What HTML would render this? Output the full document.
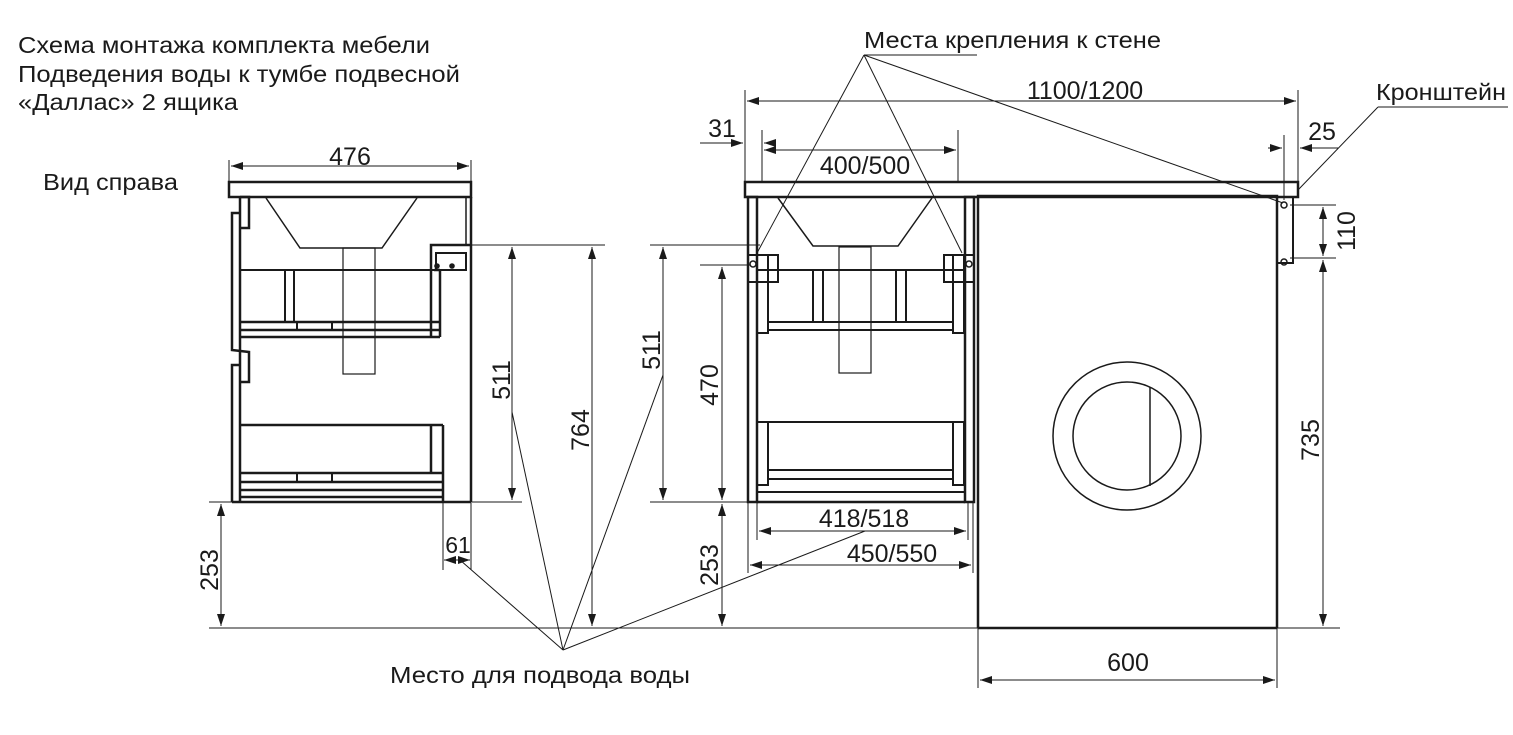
<!DOCTYPE html>
<html><head><meta charset="utf-8"><style>
html,body{margin:0;padding:0;background:#fff}
svg{display:block}
text{font-family:"Liberation Sans",sans-serif;fill:#1a1a1a}
</style></head><body>
<svg width="1513" height="735" viewBox="0 0 1513 735" xmlns="http://www.w3.org/2000/svg">
<defs>
<marker id="a" viewBox="0 0 12 8" refX="12" refY="4" markerWidth="12" markerHeight="8" orient="auto-start-reverse" markerUnits="userSpaceOnUse"><path d="M0,0 L12,4 L0,8 z" fill="#1a1a1a"/></marker>
</defs>
<g font-size="23">
<text x="18" y="53" textLength="412" lengthAdjust="spacingAndGlyphs">Схема монтажа комплекта мебели</text>
<text x="18" y="82" textLength="442" lengthAdjust="spacingAndGlyphs">Подведения воды к тумбе подвесной</text>
<text x="18" y="110" textLength="220" lengthAdjust="spacingAndGlyphs">«Даллас» 2 ящика</text>
<text x="43" y="190" textLength="135" lengthAdjust="spacingAndGlyphs">Вид справа</text>
<text x="864" y="48" textLength="297" lengthAdjust="spacingAndGlyphs">Места крепления к стене</text>
<text x="1376" y="100" textLength="130" lengthAdjust="spacingAndGlyphs">Кронштейн</text>
<text x="390" y="683" textLength="300" lengthAdjust="spacingAndGlyphs">Место для подвода воды</text>
</g>
<g stroke="#1a1a1a" stroke-width="1" fill="none">
<line x1="864" y1="55" x2="977" y2="55"/>
<line x1="864" y1="55" x2="757" y2="253"/>
<line x1="864" y1="55" x2="962" y2="253"/>
<line x1="864" y1="55" x2="1283" y2="203"/>
<line x1="1378" y1="107" x2="1508" y2="107"/>
<line x1="1378" y1="107" x2="1298" y2="190"/>
<line x1="563" y1="650" x2="460" y2="560"/>
<line x1="563" y1="650" x2="512" y2="412"/>
<line x1="563" y1="650" x2="663" y2="375"/>
<line x1="563" y1="650" x2="865" y2="531"/>
<line x1="209" y1="628" x2="1340" y2="628"/>
</g>
<g stroke="#1a1a1a" stroke-width="2.5" fill="none">
<rect x="229" y="182" width="242" height="15"/>
<line x1="471" y1="197" x2="471" y2="502"/>
<line x1="240" y1="197" x2="240" y2="502"/>
<line x1="232" y1="502" x2="471" y2="502"/>
<path d="M240,197 L249,197 L249,228 L240,228"/>
<path d="M240,213 L232,213 L232,350 L249,352 L249,382 L240,382 M240,365 L232,365 L232,502"/>
<line x1="466" y1="197" x2="466" y2="245" stroke-width="1.5"/>
<path d="M431,337 L431,245 L471,245 M434,270 L440,270 M440,270 L440,337"/>
<rect x="436" y="253" width="30" height="17" stroke-width="2"/>
<line x1="240" y1="270" x2="434" y2="270" stroke-width="2"/>
<rect x="285" y="270" width="9" height="52" stroke-width="2"/>
<line x1="240" y1="322" x2="440" y2="322"/>
<line x1="240" y1="330" x2="440" y2="330"/>
<line x1="240" y1="337" x2="440" y2="337"/>
<rect x="297" y="322" width="35" height="8" stroke-width="2"/>
<line x1="240" y1="425" x2="443" y2="425"/>
<path d="M431,425 L431,473 M443,425 L443,502"/>
<line x1="240" y1="473" x2="443" y2="473"/>
<line x1="240" y1="482" x2="443" y2="482"/>
<line x1="240" y1="490" x2="443" y2="490"/>
<line x1="240" y1="497" x2="443" y2="497"/>
<rect x="297" y="473" width="35" height="9" stroke-width="2"/>
</g>
<g stroke="#1a1a1a" stroke-width="1.5" fill="none">
<path d="M266,198 L300,248 L382,248 L417,198"/>
<rect x="343" y="248" width="32" height="126" stroke-width="1.2"/>
</g>
<circle cx="437" cy="266" r="2.8" fill="#1a1a1a"/><circle cx="452" cy="266" r="2.8" fill="#1a1a1a"/>
<g stroke="#1a1a1a" stroke-width="1" fill="none">
<line x1="229" y1="160" x2="229" y2="182"/><line x1="471" y1="160" x2="471" y2="182"/>
<line x1="231" y1="166" x2="469" y2="166" marker-start="url(#a)" marker-end="url(#a)"/>
<line x1="471" y1="245" x2="605" y2="245"/>
<line x1="472" y1="502" x2="522" y2="502"/>
<line x1="512" y1="247" x2="512" y2="500" marker-start="url(#a)" marker-end="url(#a)"/>
<line x1="592" y1="247" x2="592" y2="626" marker-start="url(#a)" marker-end="url(#a)"/>
<line x1="209" y1="502" x2="232" y2="502"/>
<line x1="221" y1="504" x2="221" y2="626" marker-start="url(#a)" marker-end="url(#a)"/>
<line x1="443" y1="502" x2="443" y2="570"/><line x1="471" y1="502" x2="471" y2="570"/>
<line x1="444" y1="560" x2="457" y2="560" marker-start="url(#a)"/>
<line x1="457" y1="560" x2="470" y2="560" marker-end="url(#a)"/>
</g>
<g font-size="25">
<text x="350" y="165" text-anchor="middle">476</text>
<text x="458" y="553" text-anchor="middle" font-size="23">61</text>
<text transform="translate(510,380) rotate(-90)" text-anchor="middle">511</text>
<text transform="translate(589,430) rotate(-90)" text-anchor="middle">764</text>
<text transform="translate(218,570) rotate(-90)" text-anchor="middle">253</text>
</g>
<g stroke="#1a1a1a" stroke-width="2.5" fill="none">
<rect x="745" y="182" width="553" height="15"/>
<rect x="748" y="197" width="9" height="305"/>
<rect x="965" y="197" width="9" height="305"/>
<line x1="757" y1="502" x2="965" y2="502"/>
<line x1="757" y1="492" x2="965" y2="492" stroke-width="2"/>
<rect x="748" y="255" width="30" height="27" stroke-width="2"/>
<rect x="944" y="255" width="30" height="27" stroke-width="2"/>
<line x1="757" y1="270" x2="965" y2="270" stroke-width="2"/>
<rect x="757" y="255" width="11" height="78" stroke-width="2"/>
<rect x="953" y="255" width="11" height="78" stroke-width="2"/>
<rect x="813" y="270" width="10" height="52" stroke-width="2"/>
<rect x="896" y="270" width="10" height="52" stroke-width="2"/>
<line x1="768" y1="322" x2="953" y2="322" stroke-width="2"/>
<line x1="768" y1="330" x2="953" y2="330" stroke-width="2"/>
<line x1="757" y1="422" x2="965" y2="422" stroke-width="2"/>
<rect x="757" y="422" width="11" height="63" stroke-width="2"/>
<rect x="953" y="422" width="11" height="63" stroke-width="2"/>
<line x1="768" y1="470" x2="953" y2="470" stroke-width="2"/>
<line x1="768" y1="479" x2="953" y2="479" stroke-width="2"/>
<path d="M978,628 L978,196 L1277,196 L1277,628"/>
<rect x="1277" y="197" width="16" height="66" stroke-width="2"/>
</g>
<g stroke="#1a1a1a" stroke-width="1.5" fill="none">
<path d="M778,198 L813,246 L898,246 L932,198"/>
<rect x="839" y="247" width="32" height="126" stroke-width="1.2"/>
<line x1="978" y1="628" x2="1277" y2="628" stroke-width="2.5"/>
<circle cx="1127" cy="436" r="74"/>
<circle cx="1127" cy="436" r="54"/>
<line x1="1150" y1="387" x2="1150" y2="486"/>
<circle cx="1284" cy="205" r="3"/>
<circle cx="1284" cy="262" r="3"/>
<circle cx="753" cy="264" r="3"/><circle cx="969" cy="264" r="3"/>
</g>
<g stroke="#1a1a1a" stroke-width="1" fill="none">
<line x1="745" y1="90" x2="745" y2="182"/><line x1="1298" y1="90" x2="1298" y2="182"/>
<line x1="747" y1="101" x2="1296" y2="101" marker-start="url(#a)" marker-end="url(#a)"/>
<line x1="700" y1="143" x2="743" y2="143" marker-end="url(#a)"/>
<line x1="762" y1="130" x2="762" y2="182"/><line x1="958" y1="130" x2="958" y2="182"/>
<line x1="776" y1="143" x2="764" y2="143" marker-end="url(#a)"/>
<line x1="764" y1="150" x2="956" y2="150" marker-start="url(#a)" marker-end="url(#a)"/>
<line x1="1284" y1="135" x2="1284" y2="200"/>
<line x1="1268" y1="148" x2="1282" y2="148" marker-end="url(#a)"/>
<line x1="1338" y1="148" x2="1300" y2="148" marker-end="url(#a)"/>
<line x1="1290" y1="205" x2="1336" y2="205"/><line x1="1290" y1="258" x2="1336" y2="258"/>
<line x1="1323" y1="207" x2="1323" y2="256" marker-start="url(#a)" marker-end="url(#a)"/>
<line x1="1323" y1="260" x2="1323" y2="626" marker-start="url(#a)" marker-end="url(#a)"/>
<line x1="978" y1="628" x2="978" y2="688"/><line x1="1277" y1="628" x2="1277" y2="688"/>
<line x1="980" y1="680" x2="1275" y2="680" marker-start="url(#a)" marker-end="url(#a)"/>
<line x1="650" y1="245" x2="760" y2="245"/>
<line x1="700" y1="265" x2="750" y2="265"/>
<line x1="650" y1="502" x2="748" y2="502"/>
<line x1="663" y1="247" x2="663" y2="500" marker-start="url(#a)" marker-end="url(#a)"/>
<line x1="722" y1="267" x2="722" y2="500" marker-start="url(#a)" marker-end="url(#a)"/>
<line x1="722" y1="504" x2="722" y2="626" marker-start="url(#a)" marker-end="url(#a)"/>
<line x1="757" y1="502" x2="757" y2="540"/><line x1="968" y1="502" x2="968" y2="540"/>
<line x1="759" y1="531" x2="966" y2="531" marker-start="url(#a)" marker-end="url(#a)"/>
<line x1="748" y1="502" x2="748" y2="573"/><line x1="973" y1="502" x2="973" y2="573"/>
<line x1="750" y1="565" x2="971" y2="565" marker-start="url(#a)" marker-end="url(#a)"/>
</g>
<g font-size="25">
<text x="1085" y="99" text-anchor="middle">1100/1200</text>
<text x="722" y="137" text-anchor="middle">31</text>
<text x="865" y="174" text-anchor="middle">400/500</text>
<text x="1322" y="140" text-anchor="middle">25</text>
<text x="1128" y="671" text-anchor="middle">600</text>
<text x="864" y="527" text-anchor="middle">418/518</text>
<text x="892" y="562" text-anchor="middle">450/550</text>
<text transform="translate(1355,231) rotate(-90)" text-anchor="middle">110</text>
<text transform="translate(1319,440) rotate(-90)" text-anchor="middle">735</text>
<text transform="translate(660,350) rotate(-90)" text-anchor="middle">511</text>
<text transform="translate(718,385) rotate(-90)" text-anchor="middle">470</text>
<text transform="translate(718,565) rotate(-90)" text-anchor="middle">253</text>
</g>
</svg>
</body></html>
